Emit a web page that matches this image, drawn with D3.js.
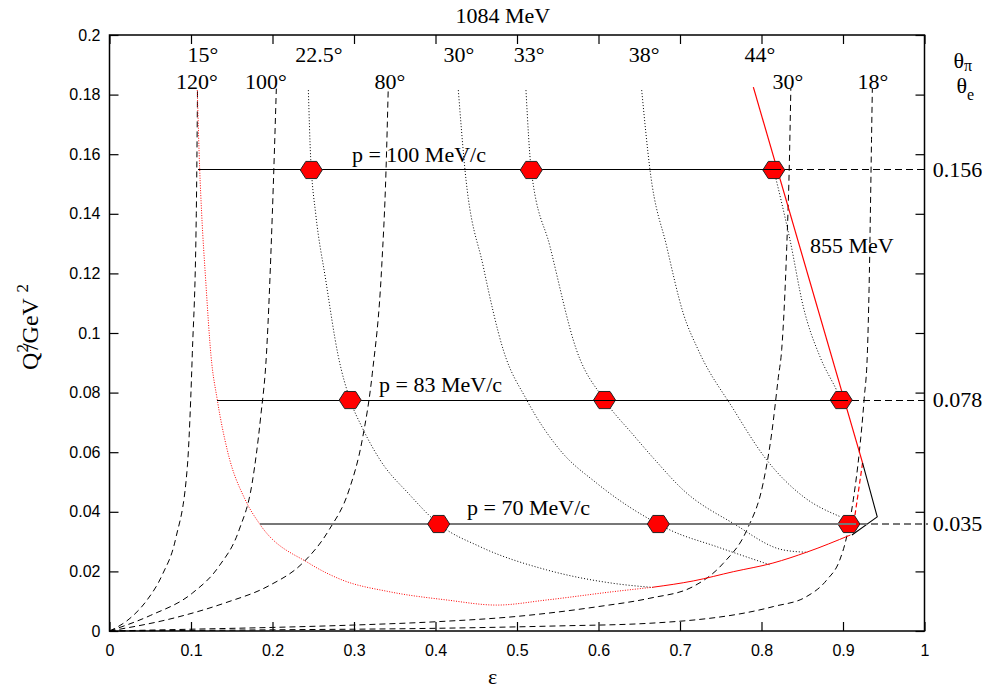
<!DOCTYPE html>
<html>
<head>
<meta charset="utf-8">
<script src="https://cdn.jsdelivr.net/npm/d3@7"></script>
<style>
  body { margin: 0; background: #fff; }
  svg { display: block; }
  .serif { font-family: "Liberation Serif", "Times New Roman", serif; font-size: 22px; fill: #000; }
  .tick text { font-family: "Liberation Sans", Arial, sans-serif; font-size: 16px; fill: #000; }
</style>
</head>
<body>
<svg id="chart" width="982" height="694"></svg>
<script>
// electron angle curves (dashed), [epsilon, Q2]
const thetaE120 = [[0,0],[0.024,0.004],[0.045,0.010],[0.065,0.019],[0.0812,0.031],[0.0955,0.0551],[0.0996,0.0775],[0.1016,0.093],[0.1065,0.140],[0.108,0.182]];
const thetaE100 = [[0,0],[0.05,0.0052],[0.1016,0.0127],[0.134,0.0216],[0.159,0.0339],[0.175,0.0496],[0.1855,0.0719],[0.1926,0.093],[0.1998,0.140],[0.2047,0.182]];
const thetaE80 = [[0,0],[0.0812,0.0045],[0.1426,0.0095],[0.1957,0.0152],[0.2366,0.0227],[0.2693,0.0339],[0.2939,0.0473],[0.310,0.064],[0.3225,0.0865],[0.334,0.1223],[0.3393,0.1547],[0.342,0.182]];
const thetaE30 = [[0,0],[0.1,0.0006],[0.2,0.0012],[0.3,0.002],[0.4,0.0031],[0.5,0.0049],[0.6,0.0082],[0.663,0.011],[0.716,0.0149],[0.753,0.0227],[0.782,0.0339],[0.802,0.0496],[0.8125,0.0663],[0.8206,0.085],[0.8248,0.0945],[0.831,0.129],[0.834,0.155],[0.836,0.182]];
const thetaE18 = [[0,0],[0.2,0.0004],[0.4,0.0009],[0.55,0.0017],[0.663,0.0026],[0.8145,0.0082],[0.855,0.0115],[0.88,0.0171],[0.896,0.0238],[0.9045,0.0316],[0.9126,0.044],[0.92,0.06],[0.926,0.078],[0.93,0.094],[0.932,0.115],[0.935,0.165],[0.936,0.182]];

// pion angle curves (dotted)
const thetaPi225 = [[0.244,0.1815],[0.2468,0.159],[0.2477,0.1547],[0.253,0.140],[0.2653,0.1178],[0.2805,0.0925],[0.2953,0.0775],[0.310,0.0683],[0.332,0.0574],[0.368,0.0458],[0.4039,0.0359],[0.4546,0.0283],[0.5365,0.0205],[0.618,0.016],[0.667,0.0146]];
const thetaPi30 = [[0.428,0.1815],[0.4362,0.1547],[0.4587,0.1222],[0.4832,0.0943],[0.512,0.0775],[0.5528,0.0607],[0.5978,0.0496],[0.6734,0.0359],[0.6877,0.0339],[0.745,0.0283],[0.8104,0.0222]];
const thetaPi33 = [[0.511,0.1815],[0.5175,0.1547],[0.5405,0.129],[0.573,0.0943],[0.6074,0.0775],[0.6427,0.0658],[0.67,0.0572],[0.704,0.0473],[0.7654,0.0361],[0.8267,0.0272],[0.857,0.0264]];
const thetaPi38 = [[0.653,0.1815],[0.6632,0.1547],[0.6837,0.129],[0.704,0.1066],[0.7224,0.0943],[0.7654,0.0745],[0.8064,0.0574],[0.8513,0.0451],[0.8963,0.0384]];
const thetaPi44 = [[0.8151,0.1547],[0.835,0.1312],[0.8513,0.1088],[0.8718,0.092],[0.892,0.0809],[0.8978,0.0775]];

// red boundary curves
const redLowDotted = [[0.1077,0.1815],[0.1107,0.1547],[0.1131,0.140],[0.118,0.1178],[0.1245,0.0925],[0.1323,0.0775],[0.1445,0.0607],[0.1666,0.044],[0.1843,0.0359],[0.245,0.0227],[0.2857,0.0171],[0.343,0.0132],[0.414,0.0104],[0.475,0.0087],[0.536,0.0104],[0.618,0.0132],[0.667,0.0147]];
const redLowSolid = [[0.667,0.0147],[0.7163,0.0168],[0.7654,0.0199],[0.814,0.0228],[0.856,0.0265],[0.909,0.0322]];
const red855 = [[0.790,0.1825],[0.924,0.0564]];
const red855Dash = [[0.924,0.0564],[0.9147,0.0389]];
const blackEdge = [[0.924,0.0564],[0.942,0.0383],[0.911,0.0322]];

// pion momentum settings
const pLabels = ["p = 100 MeV/c", "p = 83 MeV/c", "p = 70 MeV/c"];
const lineQ2 = [0.1547, 0.0775, 0.0359];
const lineStart = [0.109, 0.1323, 0.1843];
const lineEnd = [0.8151, 0.8978, 0.9072];
const dashEnd = 1.004;
const rightLabels = ["0.156", "0.078", "0.035"];
const hexEps = [[0.2476, 0.5175, 0.8151], [0.2953, 0.6074, 0.8978], [0.4039, 0.6734, 0.9072]];
const hexUnderLine = [[false, false, true], [false, true, true], [false, false, true]];
const pLabelPos = [[0.2975, 0.1574], [0.3307, 0.0802], [0.4387, 0.0389]];

// angle labels on top
const piLabels = ["15°", "22.5°", "30°", "33°", "38°", "44°"];
const piLabelEps = [0.1147, 0.257, 0.4288, 0.515, 0.656, 0.798];
const eLabels = ["120°", "100°", "80°", "30°", "18°"];
const eLabelEps = [0.1074, 0.192, 0.344, 0.8325, 0.9368];

const W = 982, H = 694;
const margin = { top: 35, right: 57.5, bottom: 63, left: 109.5 };

const svg = d3.select("#chart");
const x = d3.scaleLinear().domain([0, 1]).range([margin.left, W - margin.right]);
const y = d3.scaleLinear().domain([0, 0.2]).range([H - margin.bottom, margin.top]);

const smooth = d3.line().x(d => x(d[0])).y(d => y(d[1])).curve(d3.curveMonotoneX);
const straight = d3.line().x(d => x(d[0])).y(d => y(d[1]));

const fmt = d => String(+d.toFixed(2));

// axes, ticks inward
svg.append("g").attr("transform", `translate(0,${y(0)})`)
  .call(d3.axisBottom(x).ticks(10).tickSize(-9).tickPadding(14).tickFormat(fmt));
svg.append("g").attr("transform", `translate(${x(0)},0)`)
  .call(d3.axisLeft(y).ticks(10).tickSize(-9).tickPadding(9).tickFormat(fmt));
svg.append("g").attr("transform", `translate(0,${y(0.2)})`)
  .call(d3.axisTop(x).ticks(10).tickSize(-9).tickFormat(""));
svg.append("g").attr("transform", `translate(${x(1)},0)`)
  .call(d3.axisRight(y).ticks(10).tickSize(-9).tickFormat(""));
svg.selectAll(".domain").remove();
svg.selectAll(".tick line").attr("stroke", "#000").attr("stroke-width", 1.2);

svg.append("rect")
  .attr("x", x(0)).attr("y", y(0.2))
  .attr("width", x(1) - x(0)).attr("height", y(0) - y(0.2))
  .attr("fill", "none").attr("stroke", "#000").attr("stroke-width", 1.5);

const curves = svg.append("g").attr("fill", "none");

[thetaE120, thetaE100, thetaE80, thetaE30, thetaE18].forEach(c => {
  curves.append("path").attr("d", smooth(c))
    .attr("stroke", "#000").attr("stroke-width", 1).attr("stroke-dasharray", "6,4");
});

[thetaPi225, thetaPi30, thetaPi33, thetaPi38, thetaPi44].forEach(c => {
  curves.append("path").attr("d", smooth(c))
    .attr("stroke", "#000").attr("stroke-width", 1).attr("stroke-dasharray", "1,2");
});

curves.append("path").attr("d", smooth(redLowDotted))
  .attr("stroke", "#ff0000").attr("stroke-width", 1).attr("stroke-dasharray", "1,1.5");
curves.append("path").attr("d", smooth(redLowSolid))
  .attr("stroke", "#ff0000").attr("stroke-width", 1);
curves.append("path").attr("d", straight(red855))
  .attr("stroke", "#ff0000").attr("stroke-width", 1.2);
curves.append("path").attr("d", straight(red855Dash))
  .attr("stroke", "#ff0000").attr("stroke-width", 1.2).attr("stroke-dasharray", "5,3");
curves.append("path").attr("d", straight(blackEdge))
  .attr("stroke", "#000").attr("stroke-width", 1.1);

// hexagon markers
const hexR = 11;
const hexPath = d3.range(6).map(i => {
  const a = i * Math.PI / 3;
  return [hexR * Math.cos(a), hexR * 0.9 * Math.sin(a)];
});
const hexD = "M" + hexPath.map(p => p.join(",")).join("L") + "Z";

function drawHexes(under) {
  hexEps.forEach((row, i) => {
    row.forEach((e, j) => {
      if (hexUnderLine[i][j] !== under) return;
      svg.append("path")
        .attr("d", hexD)
        .attr("transform", `translate(${x(e)},${y(lineQ2[i])})`)
        .attr("fill", "#ff0000").attr("stroke", "#222").attr("stroke-width", 1);
    });
  });
}

drawHexes(true);

lineQ2.forEach((q, i) => {
  const last = i === lineQ2.length - 1;
  svg.append("line")
    .attr("x1", x(lineStart[i])).attr("x2", x(lineEnd[i]))
    .attr("y1", y(q)).attr("y2", y(q))
    .attr("stroke", last ? "#777" : "#000").attr("stroke-width", last ? 2 : 1)
    .attr("shape-rendering", "crispEdges");
  svg.append("line")
    .attr("x1", x(lineEnd[i])).attr("x2", x(dashEnd))
    .attr("y1", y(q)).attr("y2", y(q))
    .attr("stroke", last ? "#777" : "#000").attr("stroke-width", last ? 2 : 1)
    .attr("stroke-dasharray", "7,4").attr("shape-rendering", "crispEdges");
  svg.append("text").attr("class", "serif")
    .attr("x", x(dashEnd) + 5).attr("y", y(q) + 7)
    .text(rightLabels[i]);
  svg.append("text").attr("class", "serif")
    .attr("x", x(pLabelPos[i][0])).attr("y", y(pLabelPos[i][1]))
    .text(pLabels[i]);
});

drawHexes(false);

// angle labels
piLabels.forEach((t, i) => {
  svg.append("text").attr("class", "serif").attr("text-anchor", "middle")
    .attr("x", x(piLabelEps[i])).attr("y", y(0.1909)).text(t);
});
eLabels.forEach((t, i) => {
  svg.append("text").attr("class", "serif").attr("text-anchor", "middle")
    .attr("x", x(eLabelEps[i])).attr("y", y(0.1819)).text(t);
});

const tPi = svg.append("text").attr("class", "serif").attr("x", x(1) + 29).attr("y", y(0.1909) + 6);
tPi.append("tspan").text("θ");
tPi.append("tspan").attr("dy", 3).style("font-size", "16px").text("π");
const tE = svg.append("text").attr("class", "serif").attr("x", x(1) + 32).attr("y", y(0.1819) + 4);
tE.append("tspan").text("θ");
tE.append("tspan").attr("dy", 7).style("font-size", "16px").text("e");

svg.append("text").attr("class", "serif").attr("text-anchor", "middle")
  .attr("x", x(0.4827)).attr("y", y(0.204)).text("1084 MeV");
svg.append("text").attr("class", "serif")
  .attr("x", x(0.8595)).attr("y", y(0.1268)).text("855 MeV");

// axis titles
svg.append("text").attr("class", "serif").attr("text-anchor", "middle")
  .attr("x", x(0.47)).attr("y", H - 10).text("ε");

const yt = svg.append("text").attr("class", "serif").attr("text-anchor", "middle")
  .style("font-size", "24px")
  .attr("transform", `translate(38,327) rotate(-90)`);
yt.append("tspan").text("Q");
yt.append("tspan").attr("dy", -10).style("font-size", "17px").text("2");
yt.append("tspan").attr("dy", 10).attr("dx", -6).text("/GeV ");
yt.append("tspan").attr("dy", -10).style("font-size", "17px").text("2");
</script>
</body>
</html>
